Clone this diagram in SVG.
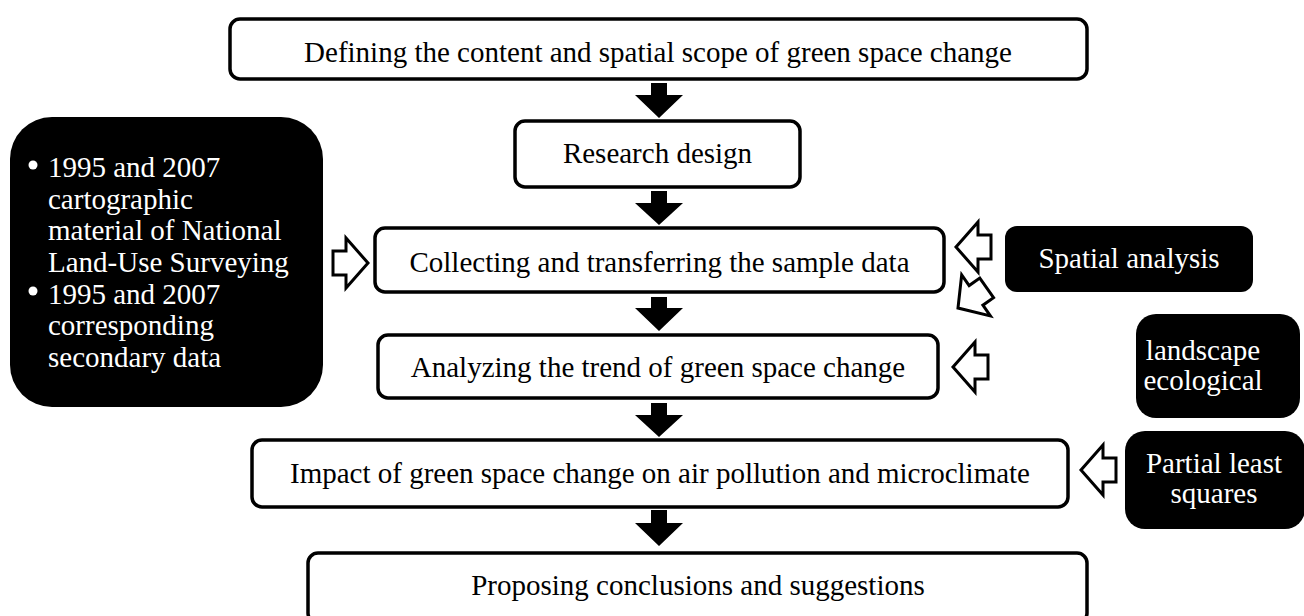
<svg xmlns="http://www.w3.org/2000/svg" width="1304" height="616" viewBox="0 0 1304 616">
<defs>
<style>
.box{fill:#fff;stroke:#000;stroke-width:3.5}
.dark{fill:#000;stroke:none}
.t{font-family:"Liberation Serif","Times New Roman",serif;font-size:29px;fill:#000;text-anchor:middle}
.w{fill:#fff}
.l{text-anchor:start}
.down{fill:#000;stroke:none}
.hollow{fill:#fff;stroke:#000;stroke-width:3;stroke-linejoin:miter}
</style>
<path id="harrow" d="M0,0 L22,-25 L22,-12 L35,-12 L35,12 L22,12 L22,25 Z"/>
</defs>
<rect width="1304" height="616" fill="#fff"/>

<g id="n_define">
<rect class="box" x="230" y="19" width="857" height="60" rx="10"/>
<text class="t" x="658" y="62">Defining the content and spatial scope of green space change</text>
</g>
<g id="n_design">
<rect class="box" x="515" y="121" width="285" height="66" rx="10"/>
<text class="t" x="657.5" y="163">Research design</text>
</g>
<g id="n_collect">
<rect class="box" x="375" y="228" width="569" height="64" rx="10"/>
<text class="t" x="659.5" y="272">Collecting and transferring the sample data</text>
</g>
<g id="n_analyze">
<rect class="box" x="378" y="335" width="560" height="63" rx="10"/>
<text class="t" x="658" y="377">Analyzing the trend of green space change</text>
</g>
<g id="n_impact">
<rect class="box" x="252" y="440" width="816" height="67" rx="10"/>
<text class="t" x="660" y="483">Impact of green space change on air pollution and microclimate</text>
</g>
<g id="n_propose">
<rect class="box" x="308" y="553" width="779" height="70" rx="10"/>
<text class="t" x="698" y="595">Proposing conclusions and suggestions</text>
</g>

<g id="n_data">
<rect class="dark" x="10" y="117" width="313" height="290" rx="42"/>
<circle cx="33" cy="165" r="4.5" fill="#fff"/>
<circle cx="33" cy="291" r="4.5" fill="#fff"/>
<text class="t w l" x="48" y="177">1995 and 2007</text>
<text class="t w l" x="48" y="208.7">cartographic</text>
<text class="t w l" x="48" y="240.3">material of National</text>
<text class="t w l" x="48" y="272">Land-Use Surveying</text>
<text class="t w l" x="48" y="303.7">1995 and 2007</text>
<text class="t w l" x="48" y="335.3">corresponding</text>
<text class="t w l" x="48" y="367">secondary data</text>
</g>
<g id="n_spatial">
<rect class="dark" x="1005" y="226" width="248" height="66" rx="12"/>
<text class="t w" x="1129" y="268">Spatial analysis</text>
</g>
<g id="n_landscape">
<rect class="dark" x="1136" y="314" width="164" height="104" rx="20"/>
<text class="t w" x="1203" y="360">landscape</text>
<text class="t w" x="1203" y="390">ecological</text>
</g>
<g id="n_pls">
<rect class="dark" x="1125" y="431" width="180" height="98" rx="20"/>
<text class="t w" x="1214" y="473">Partial least</text>
<text class="t w" x="1214" y="503">squares</text>
</g>

<g id="connectors">
<polygon class="down" points="651,83 667,83 667,95 683,95 659,118 635,95 651,95"/>
<polygon class="down" points="651,191 667,191 667,203 683,203 659,225 635,203 651,203"/>
<polygon class="down" points="651,297 667,297 667,308 683,308 659,331 635,308 651,308"/>
<polygon class="down" points="651,403 667,403 667,415 683,415 659,437 635,415 651,415"/>
<polygon class="down" points="651,510 667,510 667,523 683,523 659,546 635,523 651,523"/>
<use href="#harrow" class="hollow" transform="translate(368,263) scale(-1,1)"/>
<use href="#harrow" class="hollow" transform="translate(956,247)"/>
<use href="#harrow" class="hollow" transform="translate(958,308) rotate(-35)"/>
<use href="#harrow" class="hollow" transform="translate(953,367)"/>
<use href="#harrow" class="hollow" transform="translate(1081,470)"/>
</g>
</svg>
